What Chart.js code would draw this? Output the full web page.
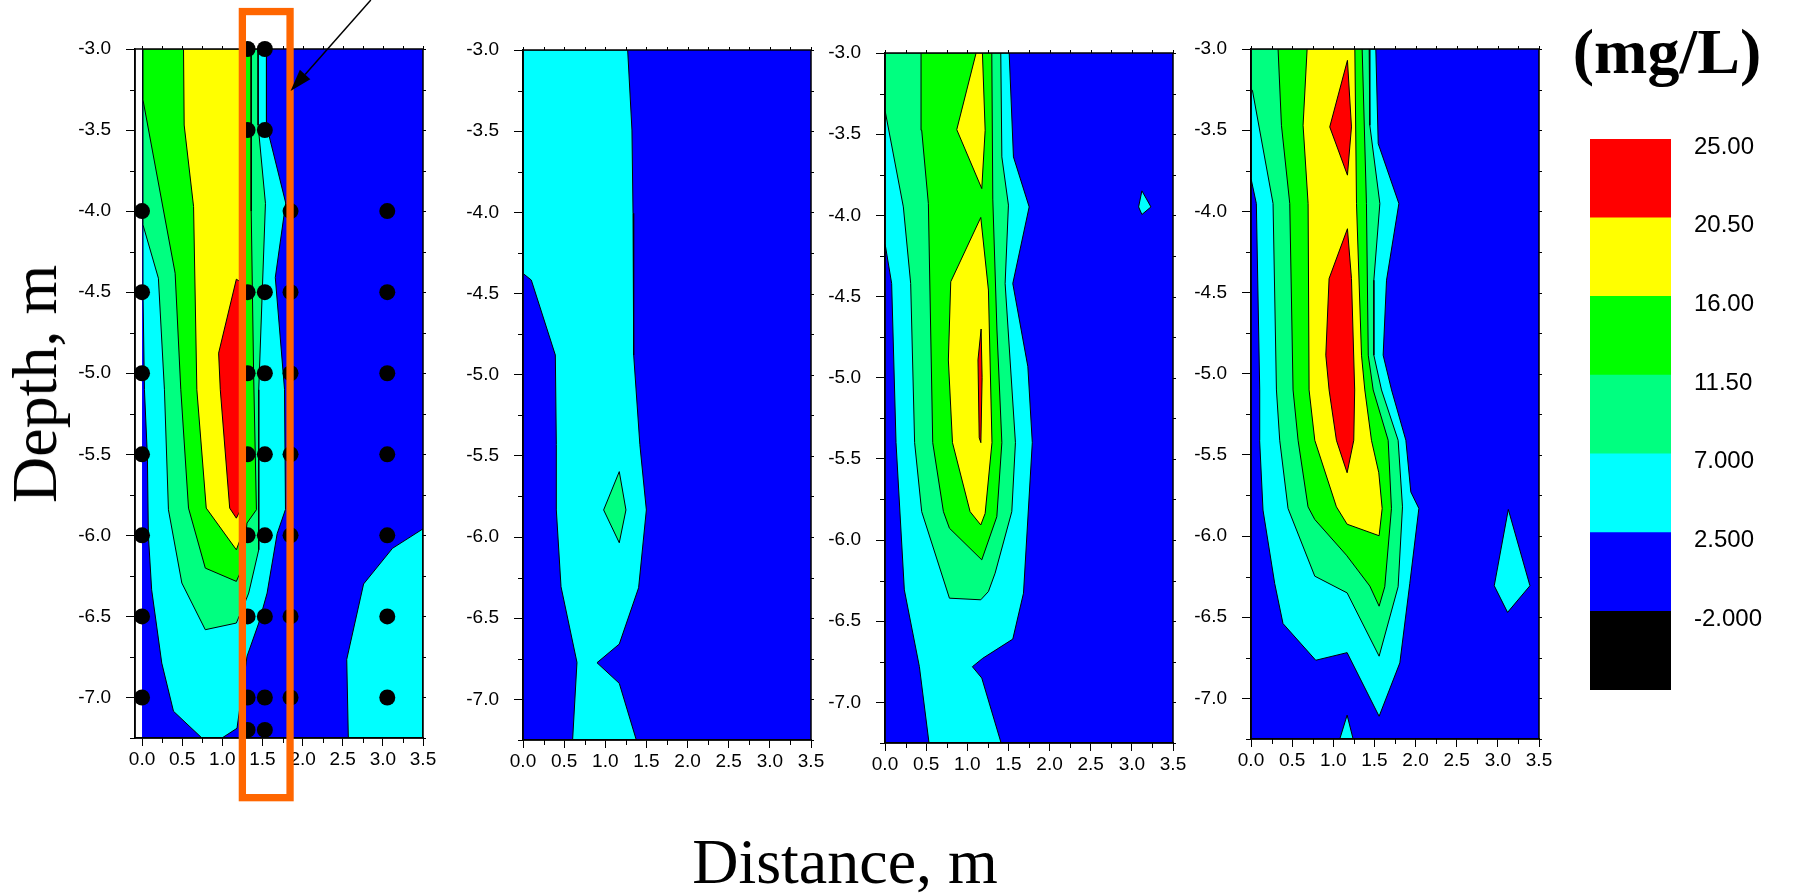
<!DOCTYPE html>
<html>
<head>
<meta charset="utf-8">
<title>Concentration cross-sections</title>
<script src="https://cdn.jsdelivr.net/npm/chart.js@4/dist/chart.umd.min.js"></script>
<style>
  html, body { margin: 0; padding: 0; background: #fff; }
  body { width: 1797px; height: 894px; position: relative; overflow: hidden; }
  canvas.panel { position: absolute; top: 0; }
  .ttl { position: absolute; font-family: "Liberation Serif", "Times New Roman", serif; line-height: 1;
         white-space: nowrap; color: #000; }
</style>
</head>
<body>
<canvas id="c1" class="panel" width="418" height="810" style="left:35px"></canvas>
<canvas id="c2" class="panel" width="418" height="810" style="left:423px"></canvas>
<canvas id="c3" class="panel" width="418" height="810" style="left:785px"></canvas>
<canvas id="c4" class="panel" width="418" height="810" style="left:1151px"></canvas>
<canvas id="cbar" class="panel" width="250" height="810" style="left:1560px"></canvas>

<div class="ttl" style="left:35px;top:384px;font-size:64px;transform:translate(-50%,-50%) rotate(-90deg);">Depth, m</div>
<div class="ttl" style="left:845px;top:862px;font-size:64px;transform:translate(-50%,-50%);">Distance, m</div>
<div class="ttl" style="left:1667px;top:52px;font-size:64px;font-weight:bold;transform:translate(-50%,-50%);">(mg/L)</div>

<script>
// ---- contour levels (mg/L) and their fill colours ----
const levelValues = [-2, 2.5, 7, 11.5, 16, 20.5, 25];
const levelNames  = ['-2.000', '2.500', '7.000', '11.50', '16.00', '20.50', '25.00'];
const bandLows    = [-6.5, -2, 2.5, 7, 11.5, 16, 20.5];
const bandHighs   = [-2, 2.5, 7, 11.5, 16, 20.5, 25];
const bandColors  = ['#000000', '#0000ff', '#00ffff', '#00ff80', '#00ff00', '#ffff00', '#ff0000'];

// ---- axis ticks ----
const xTickValues  = [0, 0.5, 1, 1.5, 2, 2.5, 3, 3.5];
const yTickValues  = [-3, -3.5, -4, -4.5, -5, -5.5, -6, -6.5, -7];
const xMinorTicks  = [0.25, 0.75, 1.25, 1.75, 2.25, 2.75, 3.25];
const yMinorTicks  = [-3.25, -3.75, -4.25, -4.75, -5.25, -5.75, -6.25, -6.75, -7.25];
const xFrameTicks  = [0, 0.25, 0.5, 0.75, 1, 1.25, 1.5, 1.75, 2, 2.25, 2.5, 2.75, 3, 3.25, 3.5];
const yFrameTicks  = [-3, -3.25, -3.5, -3.75, -4, -4.25, -4.5, -4.75, -5, -5.25, -5.5, -5.75, -6, -6.25, -6.5, -6.75, -7, -7.25];

// ---- section extent (distance, depth) ----
const sectionExtent = [[0, -3], [3.5, -3], [3.5, -7.25], [0, -7.25]];

// ---- section 1 contour regions (each polygon = area above a level) ----
const p1Cyan = [[0.012,-3],[1.55,-3],[1.55,-3.47],[1.79,-3.95],[1.66,-4.41],[1.775,-5.1],[1.787,-5.84],[1.683,-5.99],
  [1.558,-6.356],[1.454,-6.541],[1.308,-6.746],[1.183,-7.19],[0.996,-7.25],[0.746,-7.25],[0.392,-7.085],[0.246,-6.788],
  [0.12,-6.336],[0.079,-6.0],[0.067,-5.513],[0.03,-5.1],[0.012,-4.5]];
const p1CyanRight = [[2.57,-7.25],[2.55,-6.765],[2.76,-6.30],[3.12,-6.08],[3.5,-5.96],[3.5,-7.25]];
const p1LightGreen = [[0.012,-3],[1.446,-3],[1.446,-3.469],[1.5375,-3.952],[1.454,-5.102],[1.454,-6.089],[1.329,-6.356],
  [1.296,-6.397],[1.175,-6.541],[0.788,-6.582],[0.496,-6.294],[0.329,-5.842],[0.279,-5.102],[0.204,-4.414],[0.012,-4.085]];
const p1Green = [[0.012,-3],[1.358,-3],[1.36,-4.0],[1.39,-5.0],[1.425,-5.842],[1.308,-5.924],[1.25,-6.2],[1.175,-6.284],
  [0.788,-6.202],[0.579,-5.832],[0.483,-5.102],[0.4125,-4.383],[0.012,-3.314]];
const p1Yellow = [[0.517,-3],[1.28,-3],[1.28,-5.95],[1.175,-6.089],[0.80,-5.832],[0.683,-5.102],[0.642,-3.972],[0.525,-3.469]];
const p1Red = [[1.175,-4.42],[1.27,-4.45],[1.27,-5.80],[1.175,-5.894],[1.092,-5.832],[0.975,-5.102],[0.954,-4.876]];
const p1Samples = [
  [0,-4],[0,-4.5],[0,-5],[0,-5.5],[0,-6],[0,-6.5],[0,-7],
  [1.315,-3],[1.315,-3.5],[1.315,-4.5],[1.315,-5],[1.315,-5.5],[1.315,-6],[1.315,-6.5],[1.315,-7],[1.315,-7.2],
  [1.53,-3],[1.53,-3.5],[1.53,-4.5],[1.53,-5],[1.53,-5.5],[1.53,-6],[1.53,-6.5],[1.53,-7],[1.53,-7.2],
  [1.85,-4],[1.85,-4.5],[1.85,-5],[1.85,-5.5],[1.85,-6],[1.85,-6.5],[1.85,-7],
  [3.055,-4],[3.055,-4.5],[3.055,-5],[3.055,-5.5],[3.055,-6],[3.055,-6.5],[3.055,-7]];

// ---- section 2 ----
const p2Cyan = [[0,-3],[1.272,-3],[1.324,-3.493],[1.337,-4.006],[1.345,-4.879],[1.42,-5.43],[1.499,-5.833],[1.405,-6.312],
  [1.17,-6.659],[0.899,-6.774],[1.17,-6.901],[1.377,-7.25],[0.603,-7.25],[0.656,-6.772],[0.462,-6.306],[0.405,-5.833],
  [0.405,-5.43],[0.393,-4.879],[0.101,-4.417],[0,-4.376]];
const p2LightGreen = [[1.17,-5.597],[1.251,-5.833],[1.17,-6.035],[0.98,-5.833]];

// ---- section 3 ----
const p3Cyan = [[0,-3],[1.509,-3],[1.561,-3.64],[1.752,-3.948],[1.553,-4.42],[1.736,-4.932],[1.79,-5.4],[1.683,-6.327],
  [1.553,-6.61],[1.188,-6.728],[1.062,-6.78],[1.176,-6.85],[1.411,-7.25],[0.535,-7.25],[0.418,-6.78],[0.235,-6.307],
  [0.134,-5.4],[0.081,-4.42],[0,-4.173]];
const p3CyanSpot = [[3.122,-3.849],[3.232,-3.948],[3.122,-3.995],[3.082,-3.948]];
const p3LightGreen = [[0,-3],[1.407,-3],[1.42,-3.64],[1.5,-3.937],[1.46,-4.42],[1.585,-5.4],[1.541,-5.825],[1.338,-6.204],
  [1.257,-6.317],[1.164,-6.368],[0.783,-6.358],[0.446,-5.825],[0.36,-5.4],[0.312,-4.42],[0.223,-3.948],[0,-3.353]];
const p3Green = [[0.438,-3],[1.298,-3],[1.31,-3.9],[1.36,-4.7],[1.42,-5.4],[1.359,-5.856],[1.176,-6.122],[0.783,-5.927],
  [0.71,-5.825],[0.58,-5.4],[0.527,-3.927],[0.446,-3.476]];
const p3YellowTop = [[1.107,-3],[1.184,-3],[1.217,-3.476],[1.176,-3.835],[0.872,-3.472]];
const p3YellowMid = [[1.164,-4.013],[1.257,-4.46],[1.30,-5.4],[1.217,-5.836],[1.164,-5.907],[1.034,-5.825],[0.82,-5.4],
  [0.77,-4.891],[0.799,-4.409]];
const p3Red = [[1.168,-4.70],[1.18,-5.0],[1.165,-5.40],[1.145,-5.37],[1.13,-4.89]];

// ---- section 4 ----
const p4Cyan = [[0,-3],[1.517,-3],[1.546,-3.583],[1.797,-3.952],[1.647,-4.424],[1.606,-4.886],[1.708,-5.1],[1.882,-5.41],
  [1.942,-5.728],[2.04,-5.83],[1.93,-6.292],[1.809,-6.781],[1.557,-7.11],[1.168,-6.718],[0.787,-6.765],[0.389,-6.539],
  [0.288,-6.292],[0.146,-5.84],[0.105,-5.41],[0.106,-5.1],[0.065,-3.952],[0,-3.798]];
const p4CyanSpot = [[3.127,-5.836],[3.39,-6.306],[3.118,-6.47],[2.956,-6.306]];
const p4CyanFoot = [[1.168,-7.103],[1.241,-7.25],[1.079,-7.25]];
const p4LightGreen = [[0,-3],[1.436,-3],[1.444,-3.47],[1.566,-3.952],[1.493,-4.424],[1.493,-4.886],[1.586,-5.1],[1.788,-5.41],
  [1.841,-5.82],[1.788,-6.312],[1.557,-6.74],[1.168,-6.35],[0.775,-6.247],[0.45,-5.83],[0.349,-5.41],[0.309,-5.1],
  [0.268,-3.952],[0.017,-3.254],[0,-3.25]];
const p4Green = [[0.329,-3],[1.351,-3],[1.403,-3.952],[1.425,-4.886],[1.485,-5.1],[1.667,-5.41],[1.707,-5.83],[1.626,-6.312],
  [1.557,-6.432],[1.444,-6.308],[1.16,-6.118],[0.775,-5.898],[0.693,-5.82],[0.572,-5.41],[0.511,-5.1],[0.471,-3.952],[0.37,-3.47]];
const p4Yellow = [[0.682,-3],[1.262,-3],[1.282,-3.952],[1.343,-4.886],[1.383,-5.1],[1.464,-5.41],[1.553,-5.61],[1.594,-5.83],
  [1.557,-5.998],[1.168,-5.927],[1.038,-5.82],[0.775,-5.41],[0.706,-5.1],[0.694,-3.952],[0.633,-3.47]];
const p4RedUpper = [[1.172,-3.07],[1.221,-3.48],[1.172,-3.777],[0.957,-3.48]];
const p4RedLower = [[1.172,-4.107],[1.221,-4.414],[1.26,-5.1],[1.249,-5.41],[1.168,-5.61],[1.038,-5.41],[0.949,-5.1],
  [0.909,-4.886],[0.949,-4.414]];

// ---- drawing helpers ----
const SANS = '"Liberation Sans", Arial, sans-serif';

// frame, minor ticks and the outward ticks on the top/right edges
const frameTicks = {
  id: 'frameTicks',
  afterDatasetsDraw(chart) {
    const { ctx, chartArea: a, scales: { x, y } } = chart;
    ctx.save();
    ctx.strokeStyle = '#000';
    ctx.lineWidth = 1;
    ctx.beginPath();
    xMinorTicks.forEach(v => { const p = Math.round(x.getPixelForValue(v)) + 0.5; ctx.moveTo(p, a.bottom); ctx.lineTo(p, a.bottom + 5); });
    yMinorTicks.forEach(v => { const p = Math.round(y.getPixelForValue(v)) + 0.5; ctx.moveTo(a.left, p); ctx.lineTo(a.left - 5, p); });
    xFrameTicks.forEach(v => { const p = Math.round(x.getPixelForValue(v)) + 0.5; ctx.moveTo(p, a.top); ctx.lineTo(p, a.top - 3); });
    yFrameTicks.forEach(v => { const p = Math.round(y.getPixelForValue(v)) + 0.5; ctx.moveTo(a.right, p); ctx.lineTo(a.right + 3, p); });
    ctx.stroke();
    ctx.lineWidth = 1.5;
    ctx.strokeRect(a.left, a.top, a.right - a.left, a.bottom - a.top);
    ctx.restore();
  }
};

// highlighted sampling column and pointer arrow (section 1)
const callout = {
  id: 'callout',
  afterDraw(chart, args, o) {
    if (!o || !o.box) return;
    const { ctx, scales: { x, y } } = chart;
    const bx1 = x.getPixelForValue(o.box[0]), by1 = y.getPixelForValue(o.box[1]);
    const bx2 = x.getPixelForValue(o.box[2]), by2 = y.getPixelForValue(o.box[3]);
    ctx.save();
    ctx.strokeStyle = o.boxColor;
    ctx.lineWidth = o.boxWidth;
    ctx.lineJoin = 'miter';
    ctx.strokeRect(bx1, by1, bx2 - bx1, by2 - by1);

    const sx = x.getPixelForValue(o.arrow[0]), sy = y.getPixelForValue(o.arrow[1]);
    const tx = x.getPixelForValue(o.arrow[2]), ty = y.getPixelForValue(o.arrow[3]);
    const ang = Math.atan2(ty - sy, tx - sx);
    const hl = 22, hw = 7;
    const bxp = tx - hl * Math.cos(ang), byp = ty - hl * Math.sin(ang);
    ctx.strokeStyle = '#000';
    ctx.fillStyle = '#000';
    ctx.lineWidth = 1.5;
    ctx.beginPath();
    ctx.moveTo(sx, sy);
    ctx.lineTo(bxp, byp);
    ctx.stroke();
    ctx.beginPath();
    ctx.moveTo(tx, ty);
    ctx.lineTo(bxp + hw * Math.sin(ang), byp - hw * Math.cos(ang));
    ctx.lineTo(bxp - hw * Math.sin(ang), byp + hw * Math.cos(ang));
    ctx.closePath();
    ctx.fill();
    ctx.restore();
  }
};

function region(points, colorIndex, outlined = true) {
  const closed = points.concat([points[0]]);
  return {
    type: 'scatter',
    data: closed.map(([x, y]) => ({ x, y })),
    showLine: true,
    fill: 'shape',
    backgroundColor: bandColors[colorIndex],
    borderColor: '#000',
    borderWidth: outlined ? 1 : 0,
    borderJoinStyle: 'miter',
    pointRadius: 0,
    pointHoverRadius: 0,
    tension: 0
  };
}

function section(canvasId, cfg) {
  const datasets = cfg.layers.map(([pts, c, outlined]) => region(pts, c, outlined !== false));
  // lower layers are painted first
  datasets.forEach((d, i) => { d.order = datasets.length - i + 1; });
  if (cfg.samples) {
    datasets.push({
      type: 'scatter',
      data: cfg.samples.map(([x, y]) => ({ x, y })),
      backgroundColor: '#000',
      borderWidth: 0,
      pointRadius: 8,
      pointHoverRadius: 8,
      clip: false,
      order: 0
    });
  }
  const tickFont = { family: SANS, size: 19 };
  return new Chart(document.getElementById(canvasId), {
    type: 'scatter',
    data: { datasets },
    plugins: [frameTicks, callout],
    options: {
      responsive: false,
      animation: false,
      devicePixelRatio: 1,
      events: [],
      layout: { padding: { left: 40, right: 30, top: cfg.top, bottom: 810 - cfg.bottom - 40 } },
      plugins: {
        legend: { display: false },
        tooltip: { enabled: false },
        callout: cfg.callout || {}
      },
      scales: {
        x: {
          type: 'linear',
          min: cfg.xMin,
          max: 3.5,
          afterFit: s => { s.height = 40; },
          afterBuildTicks: s => { s.ticks = xTickValues.map(v => ({ value: v })); },
          grid: { drawOnChartArea: false, tickLength: 8, tickColor: '#000', tickWidth: 1 },
          border: { display: true, color: '#000', width: 1.5, z: 1 },
          ticks: { font: tickFont, color: '#000', padding: 2, maxRotation: 0, autoSkip: false,
                   callback: v => Number(v).toFixed(1) }
        },
        y: {
          type: 'linear',
          min: -7.25,
          max: -3,
          afterFit: s => { s.width = 60; },
          afterBuildTicks: s => { s.ticks = yTickValues.map(v => ({ value: v })); },
          grid: { drawOnChartArea: false, tickLength: 9, tickColor: '#000', tickWidth: 1 },
          border: { display: true, color: '#000', width: 1.5, z: 1 },
          ticks: { font: tickFont, color: '#000', padding: 15, autoSkip: false,
                   callback: v => Number(v).toFixed(1) }
        }
      }
    }
  });
}

section('c1', {
  xMin: -0.0875, top: 49, bottom: 738,
  layers: [[sectionExtent, 1, false], [p1Cyan, 2], [p1CyanRight, 2], [p1LightGreen, 3], [p1Green, 4], [p1Yellow, 5], [p1Red, 6]],
  samples: p1Samples,
  callout: { box: [1.25, -2.769, 1.844, -7.618], boxColor: '#ff6600', boxWidth: 7.3, arrow: [2.85, -2.698, 1.85, -3.259] }
});
section('c2', {
  xMin: 0, top: 50, bottom: 740,
  layers: [[sectionExtent, 1, false], [p2Cyan, 2], [p2LightGreen, 3]]
});
section('c3', {
  xMin: 0, top: 53, bottom: 743,
  layers: [[sectionExtent, 1, false], [p3Cyan, 2], [p3CyanSpot, 2], [p3LightGreen, 3], [p3Green, 4],
           [p3YellowTop, 5], [p3YellowMid, 5], [p3Red, 6]]
});
section('c4', {
  xMin: 0, top: 49, bottom: 739,
  layers: [[sectionExtent, 1, false], [p4Cyan, 2], [p4CyanSpot, 2], [p4CyanFoot, 2], [p4LightGreen, 3], [p4Green, 4],
           [p4Yellow, 5], [p4RedUpper, 6], [p4RedLower, 6]]
});

// ---- colour scale ----
new Chart(document.getElementById('cbar'), {
  type: 'bar',
  data: {
    labels: [''],
    datasets: bandColors.map((c, i) => ({
      data: [[bandLows[i], bandHighs[i]]],
      backgroundColor: c,
      borderWidth: 0,
      grouped: false,
      barPercentage: 1,
      categoryPercentage: 1
    }))
  },
  options: {
    responsive: false,
    animation: false,
    devicePixelRatio: 1,
    events: [],
    layout: { padding: { left: 30, right: 0, top: 139, bottom: 120 } },
    plugins: { legend: { display: false }, tooltip: { enabled: false } },
    scales: {
      x: { display: false },
      y: {
        position: 'right',
        min: -6.5,
        max: 25,
        afterFit: s => { s.width = 139; },
        afterBuildTicks: s => { s.ticks = levelValues.map(v => ({ value: v })); },
        grid: { display: false, drawTicks: false },
        border: { display: false },
        ticks: { font: { family: SANS, size: 24 }, color: '#000', padding: 23, labelOffset: 8,
                 callback: v => levelNames[levelValues.indexOf(v)] }
      }
    }
  }
});
</script>
</body>
</html>
